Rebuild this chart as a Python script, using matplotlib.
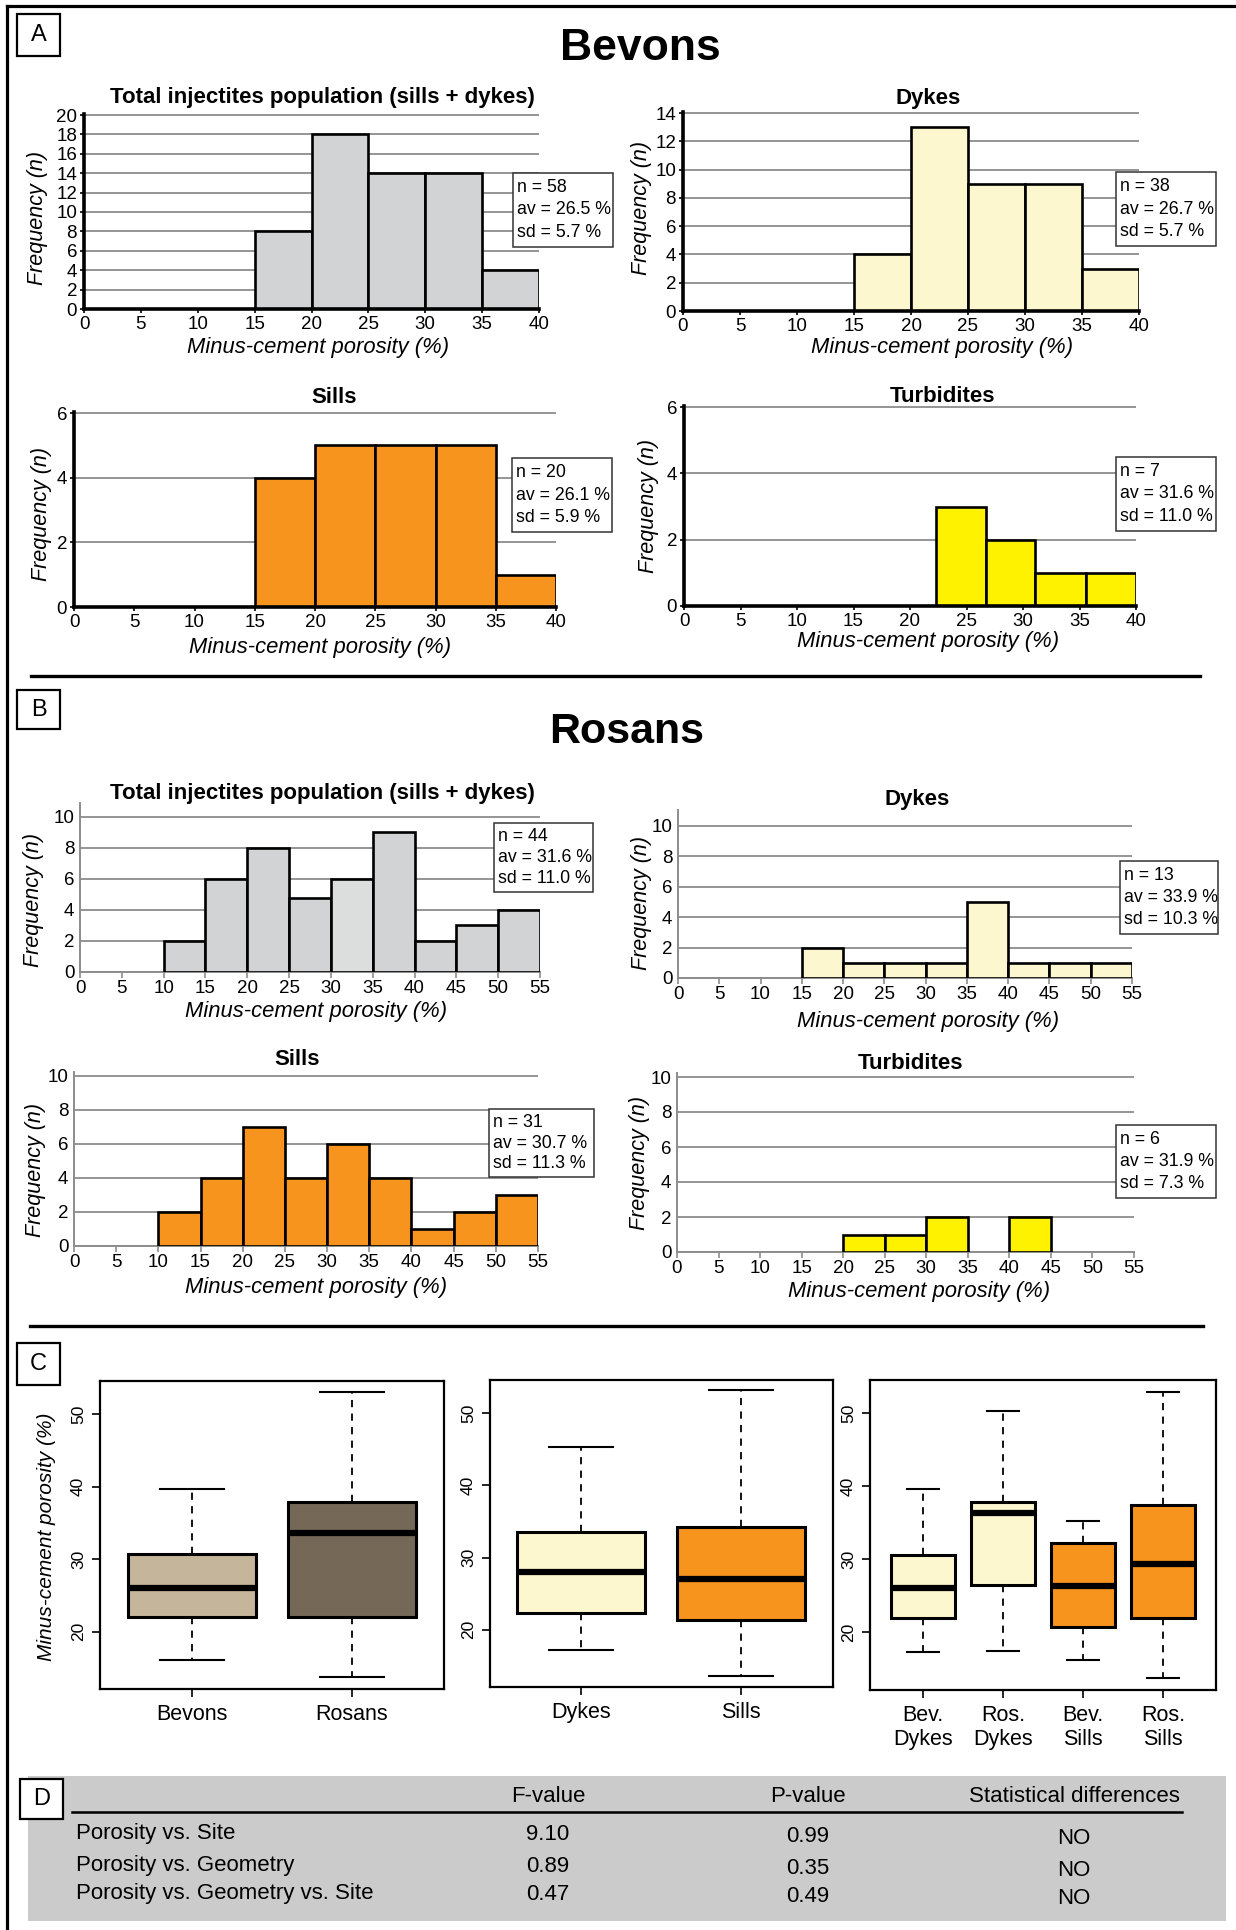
import numpy as np
import matplotlib.pyplot as plt
from matplotlib.patches import Rectangle
from matplotlib.lines import Line2D

plt.rcParams['font.family'] = ['Liberation Sans', 'DejaVu Sans']

W, H = 1236, 1930

# ---------------- data ----------------
# A - Bevons histograms (bin edges, counts)
bev_total_edges = [15, 20, 25, 30, 35, 40]
bev_total_counts = [8, 18, 14, 14, 4]
bev_dykes_edges = [15, 20, 25, 30, 35, 40]
bev_dykes_counts = [4, 13, 9, 9, 3]
bev_sills_edges = [15, 20, 25, 30, 35, 40]
bev_sills_counts = [4, 5, 5, 5, 1]
bev_turb_edges = [22.3, 26.7, 31.1, 35.6, 40]
bev_turb_counts = [3, 2, 1, 1]

# B - Rosans histograms
ros_total_edges = [10, 15, 20, 25, 30, 35, 40, 45, 50, 55]
ros_total_counts = [2, 6, 8, 4.8, 6, 9, 2, 3, 4]
ros_dykes_edges = [15, 20, 25, 30, 35, 40, 45, 50, 55]
ros_dykes_counts = [2, 1, 1, 1, 5, 1, 1, 1]
ros_sills_edges = [10, 15, 20, 25, 30, 35, 40, 45, 50, 55]
ros_sills_counts = [2, 4, 7, 4, 6, 4, 1, 2, 3]
ros_turb_edges = [20, 25, 30, 35, 40, 45]
ros_turb_counts = [1, 1, 2, 0, 2]

bev_total_stats = ['n = 58', 'av = 26.5 %', 'sd = 5.7 %']
bev_dykes_stats = ['n = 38', 'av = 26.7 %', 'sd = 5.7 %']
bev_sills_stats = ['n = 20', 'av = 26.1 %', 'sd = 5.9 %']
bev_turb_stats = ['n = 7', 'av = 31.6 %', 'sd = 11.0 %']
ros_total_stats = ['n = 44', 'av = 31.6 %', 'sd = 11.0 %']
ros_dykes_stats = ['n = 13', 'av = 33.9 %', 'sd = 10.3 %']
ros_sills_stats = ['n = 31', 'av = 30.7 %', 'sd = 11.3 %']
ros_turb_stats = ['n = 6', 'av = 31.9 %', 'sd = 7.3 %']

# C - boxplots: (whisker low, Q1, median, Q3, whisker high)
site_labels = ['Bevons', 'Rosans']
site_boxes = [(16.1, 22.0, 26.0, 30.7, 39.7), (13.7, 22.0, 33.6, 37.9, 53.0)]
geom_labels = ['Dykes', 'Sills']
geom_boxes = [(17.2, 22.4, 28.0, 33.6, 45.3), (13.6, 21.4, 27.1, 34.2, 53.1)]
both_labels = ['Bev.\nDykes', 'Ros.\nDykes', 'Bev.\nSills', 'Ros.\nSills']
both_boxes = [(17.3, 22.0, 26.1, 30.6, 39.6), (17.5, 26.5, 36.3, 37.8, 50.3),
              (16.2, 20.7, 26.3, 32.2, 35.3), (13.7, 22.0, 29.3, 37.5, 52.9)]

# D - table
tab_header = ['F-value', 'P-value', 'Statistical differences']
tab_rows = ['Porosity vs. Site', 'Porosity vs. Geometry', 'Porosity vs. Geometry vs. Site']
f_values = ['9.10', '0.89', '0.47']
p_values = ['0.99', '0.35', '0.49']
differences = ['NO', 'NO', 'NO']

GRAY = '#d1d3d4'
CREAM = '#fcf7cf'
ORANGE = '#f7941e'
YELLOW = '#fff200'

fig = plt.figure(figsize=(W / 100, H / 100), dpi=100)


def fx(x):
    return x / W


def fy(y):
    return 1 - y / H


def ftext(x, y, s, **kw):
    fig.text(fx(x), fy(y), s, **kw)


def frect(x0, y0, x1, y1, **kw):
    fig.add_artist(Rectangle((fx(x0), fy(y1)), (x1 - x0) / W, (y1 - y0) / H,
                             transform=fig.transFigure, **kw))


def fline(xs, ys, **kw):
    fig.add_artist(Line2D([fx(v) for v in xs], [fy(v) for v in ys],
                          transform=fig.transFigure, **kw))


def hist_panel(x0, x1, ybot, ytick_px, ytick_val, ytop, edges, counts, color,
               xmax, ystep, style, stats, sbox, title, tpos, ylab, xlab):
    top = ybot - (ybot - ytick_px) * ytop / ytick_val
    ax = fig.add_axes([fx(x0), fy(ybot), (x1 - x0) / W, (ybot - top) / H])
    edges = np.array(edges, dtype=float)
    counts = np.array(counts, dtype=float)
    cols = color if isinstance(color, list) else [color] * len(counts)
    keep = counts > 0
    ax.bar(edges[:-1][keep], counts[keep], width=np.diff(edges)[keep], align='edge',
           color=np.array(cols)[keep], edgecolor='black', linewidth=1.9, zorder=3)
    ax.set_xlim(0, xmax)
    ax.set_ylim(0, ytop)
    ax.set_xticks(np.arange(0, xmax + 1, 5))
    ax.set_yticks(np.arange(0, ytick_val + 1, ystep))
    ax.yaxis.grid(True, color='#8c8c8c', lw=1.3)
    ax.set_axisbelow(True)
    for s in ['top', 'right']:
        ax.spines[s].set_visible(False)
    if style == 'A':
        for s in ['left', 'bottom']:
            ax.spines[s].set_linewidth(2.6)
            ax.spines[s].set_zorder(4)
        ax.tick_params(axis='both', colors='black', length=3, width=1.2,
                       labelsize=13.5, pad=2)
    else:
        for s in ['left', 'bottom']:
            ax.spines[s].set_linewidth(1.4)
            ax.spines[s].set_color('#8c8c8c')
        ax.tick_params(axis='x', colors='#8c8c8c', labelcolor='black', length=4,
                       width=1.2, labelsize=13.5, pad=2)
        ax.tick_params(axis='y', length=0, labelsize=13.5, pad=4)
    # stats box
    bx0, by0, bx1, by1 = sbox
    frect(bx0, by0, bx1, by1, facecolor='white', edgecolor='#333333', lw=1.1, zorder=5)
    for frac, line in zip([0.2, 0.5, 0.8], stats):
        ftext(bx0 + 4, by0 + frac * (by1 - by0), line, fontsize=12.8,
              va='center', ha='left', zorder=6)
    ftext(tpos[0], tpos[1], title, fontsize=16, fontweight='bold',
          ha='center', va='baseline')
    ftext(ylab[0], ylab[1], 'Frequency (n)', fontsize=15.5, style='italic',
          rotation=90, ha='center', va='center')
    ftext(xlab[0], xlab[1], 'Minus-cement porosity (%)', fontsize=15.8,
          style='italic', ha='center', va='center')
    return ax


def box_panel(x0, x1, y0, y1, boxes, labels, colors, xlim):
    ax = fig.add_axes([fx(x0), fy(y1), (x1 - x0) / W, (y1 - y0) / H])
    stats = [dict(whislo=b[0], q1=b[1], med=b[2], q3=b[3], whishi=b[4], label=l)
             for b, l in zip(boxes, labels)]
    res = ax.bxp(stats, positions=range(1, len(stats) + 1), widths=0.8, capwidths=0.4,
                 patch_artist=True, showfliers=False,
                 boxprops=dict(linewidth=2.2, edgecolor='black'),
                 medianprops=dict(color='black', linewidth=4.5, solid_capstyle='butt'),
                 whiskerprops=dict(color='black', linewidth=1.3, linestyle=(0, (4, 3.5))),
                 capprops=dict(color='black', linewidth=1.5))
    for patch, c in zip(res['boxes'], colors):
        patch.set_facecolor(c)
    ax.set_xlim(*xlim)
    ax.set_ylim(12.1, 54.55)
    ax.set_yticks([20, 30, 40, 50])
    for s in ax.spines.values():
        s.set_linewidth(1.6)
    ax.tick_params(axis='y', length=6, width=1.2, labelsize=12.5, pad=4)
    for t in ax.get_yticklabels():
        t.set_rotation(90)
        t.set_va('center')
    ax.tick_params(axis='x', length=6, width=1.2, labelsize=15.5, pad=5)
    return ax


# ---------------- frame and section labels ----------------
fline([7, W], [6, 6], color='black', lw=2.3)
fline([7, 7], [6, H], color='black', lw=2.3)
fline([31, 1200], [676, 676], color='black', lw=2.4)
fline([30, 1203], [1326, 1326], color='black', lw=2.4)

frect(28, 1776, 1226, 1921, facecolor='#cbcbcb', edgecolor='none', zorder=0.5)

for lab, (x0, y0, x1, y1) in zip('ABCD', [(17, 14, 60, 56), (17, 690, 60, 729),
                                          (17, 1343, 60, 1385), (20, 1779, 63, 1819)]):
    frect(x0, y0, x1, y1, facecolor='white', edgecolor='black', lw=1.6, zorder=2)
    ftext((x0 + x1) / 2, (y0 + y1) / 2, lab, fontsize=17, ha='center', va='center', zorder=3)

ftext(640, 60, 'Bevons', fontsize=32, fontweight='bold', ha='center', va='baseline')
ftext(627, 743, 'Rosans', fontsize=31, fontweight='bold', ha='center', va='baseline')

# ---------------- A: Bevons ----------------
hist_panel(84, 539, 309, 115, 20, 20.08, bev_total_edges, bev_total_counts, GRAY, 40, 2, 'A',
           bev_total_stats, (513, 173, 613, 247),
           'Total injectites population (sills + dykes)', (322, 103), (38, 218), (318, 348))
hist_panel(683, 1139, 311, 113, 14, 14.06, bev_dykes_edges, bev_dykes_counts, CREAM, 40, 2, 'A',
           bev_dykes_stats, (1116, 172, 1216, 246), 'Dykes', (928, 104), (642, 208), (942, 347))
hist_panel(74, 556, 607, 413, 6, 6.03, bev_sills_edges, bev_sills_counts, ORANGE, 40, 2, 'A',
           bev_sills_stats, (512, 458, 612, 532), 'Sills', (334, 403), (42, 514), (320, 648))
hist_panel(684, 1136, 606, 407, 6, 6.03, bev_turb_edges, bev_turb_counts, YELLOW, 40, 2, 'A',
           bev_turb_stats, (1116, 457, 1216, 531), 'Turbidites', (942, 402), (649, 506), (928, 642))

# ---------------- B: Rosans ----------------
ros_total_colors = [GRAY] * 4 + ['#dcdddd'] + [GRAY] * 4
hist_panel(80, 540, 972, 817, 10, 10.9, ros_total_edges, ros_total_counts, ros_total_colors,
           55, 2, 'B', ros_total_stats, (494, 823, 593, 892),
           'Total injectites population (sills + dykes)', (322, 799), (33, 900), (316, 1012))
hist_panel(678, 1132, 978, 826, 10, 11.05, ros_dykes_edges, ros_dykes_counts, CREAM, 55, 2, 'B',
           ros_dykes_stats, (1120, 861, 1218, 934), 'Dykes', (917, 805), (641, 903), (928, 1022))
hist_panel(74, 538, 1246, 1076, 10, 10.25, ros_sills_edges, ros_sills_counts, ORANGE, 55, 2, 'B',
           ros_sills_stats, (489, 1109, 594, 1177), 'Sills', (297, 1065), (35, 1170), (316, 1287))
hist_panel(677, 1134, 1252, 1077, 10, 10.25, ros_turb_edges, ros_turb_counts, YELLOW, 55, 2, 'B',
           ros_turb_stats, (1116, 1125, 1216, 1198), 'Turbidites', (911, 1069), (639, 1163), (919, 1292))

# ---------------- C: boxplots ----------------
box_panel(100, 444, 1381, 1689, site_boxes, site_labels, ['#c4b59b', '#756857'], (0.425, 2.575))
box_panel(490, 833, 1380, 1687, geom_boxes, geom_labels, [CREAM, ORANGE], (0.43, 2.575))
box_panel(870, 1216, 1380, 1690, both_boxes, both_labels,
          [CREAM, CREAM, ORANGE, ORANGE], (0.34, 4.66))
ftext(47, 1537, 'Minus-cement porosity (%)', fontsize=15, style='italic',
      rotation=90, ha='center', va='center')

# ---------------- D: table ----------------
col_x = [548, 808, 1074]
for x, h in zip(col_x, tab_header):
    ftext(x, 1797, h, fontsize=16, ha='center', va='center')
fline([72, 1182], [1812, 1812], color='black', lw=1.8)
row_y = [1834, 1865, 1894]
for y, r, fv, pv, d in zip(row_y, tab_rows, f_values, p_values, differences):
    ftext(76, y, r, fontsize=16, ha='left', va='center')
    ftext(col_x[0], y + 1, fv, fontsize=16, ha='center', va='center')
    ftext(col_x[1], y + 3, pv, fontsize=16, ha='center', va='center')
    ftext(col_x[2], y + 5, d, fontsize=16, ha='center', va='center')

fig.savefig('out.png', dpi=100)
